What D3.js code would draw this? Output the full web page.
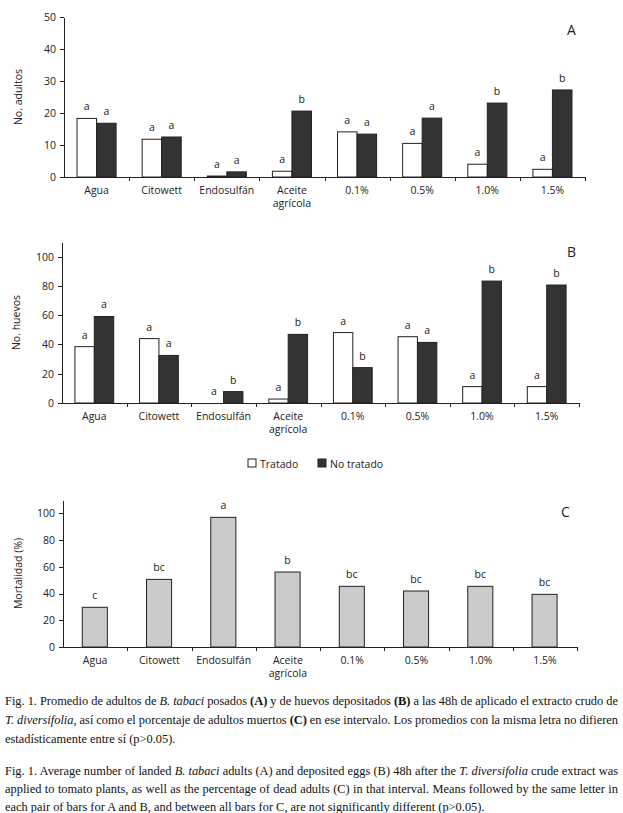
<!DOCTYPE html>
<html>
<head>
<meta charset="utf-8">
<script src="https://cdn.jsdelivr.net/npm/d3@7"></script>
<style>
  body { margin: 0; background: #fff; }
  svg { display: block; }
  .axis text { font-family: "Open Sans", sans-serif; font-size: 10.5px; fill: #222; }
  .axis path, .axis line { stroke: #222; stroke-width: 1; shape-rendering: crispEdges; }
  .lbl { font-family: "Open Sans", sans-serif; font-size: 10.5px; fill: #222; }
  .cap { font-family: "Liberation Serif", "Times New Roman", serif; font-size: 12.4px; fill: #111; }
</style>
</head>
<body>
<svg id="fig" width="623" height="813"></svg>
<script>
var categories = ["Agua", "Citowett", "Endosulfán", "Aceite agrícola", "0.1%", "0.5%", "1.0%", "1.5%"];
var series = ["Tratado", "No tratado"];

// A: adultos posados
var adultsTratado = [18.3, 11.8, 0.3, 1.8, 14.1, 10.5, 4.0, 2.4];
var adultsNoTratado = [16.8, 12.5, 1.6, 20.6, 13.4, 18.4, 23.1, 27.2];
var adultsLetters = [["a","a"],["a","a"],["a","a"],["a","b"],["a","a"],["a","a"],["a","b"],["a","b"]];

// B: huevos depositados
var eggsTratado = [38.5, 44.0, 0, 2.7, 48.1, 45.3, 11.2, 11.2];
var eggsNoTratado = [59.1, 32.5, 7.8, 46.9, 24.2, 41.4, 83.3, 80.6];
var eggsLetters = [["a","a"],["a","a"],["a","b"],["a","b"],["a","b"],["a","a"],["a","b"],["a","b"]];

// C: mortalidad
var mortality = [29.7, 50.6, 97.0, 56.1, 45.4, 41.9, 45.4, 39.4];
var mortalityLetters = ["c", "bc", "a", "b", "bc", "bc", "bc", "bc"];

var svg = d3.select('#fig');

var fillFor = { "Tratado": "#ffffff", "No tratado": "#333333" };

//: draws the common frame of one panel, returns the scales
var frame = function( o ) {
	var g = svg.append('g');

	var x = d3.scaleBand().domain( categories ).range( [o.x0, o.x1] ).padding( 0 );
	var y = d3.scaleLinear().domain( [0, o.max] ).range( [o.y0, o.yTop] );

	g.append('g')
		.attr('class', 'axis')
		.attr('transform', 'translate(' + o.x0 + ',0)')
		.call( d3.axisLeft( y ).tickValues( o.ticks ).tickSize( 4 ).tickSizeOuter( 0 ).tickPadding( 4 ) );

	// x axis: line + ticks on the category boundaries
	var xa = g.append('g').attr('class', 'axis');
	xa.append('line')
		.attr('x1', o.x0).attr('x2', o.x1)
		.attr('y1', o.y0 + 0.5).attr('y2', o.y0 + 0.5);
	xa.selectAll('.bt')
		.data( categories.map( function( c ) { return x( c ); } ).concat( [o.x1] ).slice( 1 ) )
		.enter().append('line')
			.attr('x1', function( d ) { return Math.round( d ) + 0.5; })
			.attr('x2', function( d ) { return Math.round( d ) + 0.5; })
			.attr('y1', o.y0).attr('y2', o.y0 + 4);

	var lab = g.selectAll('.cat')
		.data( categories )
		.enter().append('text')
			.attr('class', 'lbl')
			.attr('text-anchor', 'middle')
			.attr('x', function( d ) { return x( d ) + x.bandwidth() / 2; })
			.attr('y', o.y0 + 17);
	lab.each( function( d ) {
		var words = d === "Aceite agrícola" ? ["Aceite", "agrícola"] : [d];
		d3.select( this ).selectAll('tspan').data( words ).enter().append('tspan')
			.attr('x', x( d ) + x.bandwidth() / 2)
			.attr('dy', function( w, i ) { return i === 0 ? 0 : 12.5; })
			.text( function( w ) { return w; });
	});

	g.append('text')
		.attr('class', 'lbl')
		.attr('text-anchor', 'middle')
		.attr('transform', 'translate(' + o.titleX + ',' + (o.y0 + o.yTop) / 2 + ') rotate(-90)')
		.text( o.title );

	g.append('text')
		.attr('class', 'lbl')
		.style('font-size', '14px')
		.attr('x', o.tagX).attr('y', o.tagY)
		.text( o.tag );

	return { g: g, x: x, y: y };
};

var pairedPanel = function( o, tratado, noTratado, letters ) {
	var f = frame( o );
	var xs = d3.scaleBand().domain( series ).range( [f.x.bandwidth() * 0.2, f.x.bandwidth() * 0.8] ).padding( 0 );

	var rows = categories.map( function( c, i ) {
		return [
			{ cat: c, s: "Tratado", v: tratado[i], l: letters[i][0] },
			{ cat: c, s: "No tratado", v: noTratado[i], l: letters[i][1] }
		];
	}).reduce( function( a, b ) { return a.concat( b ); }, [] );

	f.g.selectAll('.bar')
		.data( rows )
		.enter().append('rect')
			.attr('class', 'bar')
			.attr('x', function( d ) { return f.x( d.cat ) + xs( d.s ); })
			.attr('width', xs.bandwidth())
			.attr('y', function( d ) { return f.y( d.v ); })
			.attr('height', function( d ) { return f.y( 0 ) - f.y( d.v ); })
			.attr('fill', function( d ) { return fillFor[ d.s ]; })
			.attr('stroke', '#222')
			.attr('stroke-width', 1);

	f.g.selectAll('.let')
		.data( rows )
		.enter().append('text')
			.attr('class', 'lbl')
			.attr('text-anchor', 'middle')
			.attr('x', function( d ) { return f.x( d.cat ) + xs( d.s ) + xs.bandwidth() / 2; })
			.attr('y', function( d ) { return f.y( d.v ) - 8; })
			.text( function( d ) { return d.l; });

	return f;
};

pairedPanel({
	x0: 64, x1: 585, y0: 177, yTop: 17, max: 50, ticks: [0, 10, 20, 30, 40, 50],
	title: "No. adultos", titleX: 22, tag: "A", tagX: 567, tagY: 35
}, adultsTratado, adultsNoTratado, adultsLetters );

pairedPanel({
	x0: 62, x1: 579, y0: 403, yTop: 242, max: 110, ticks: [0, 20, 40, 60, 80, 100],
	title: "No. huevos", titleX: 20, tag: "B", tagX: 567, tagY: 257
}, eggsTratado, eggsNoTratado, eggsLetters );

// legend
var legend = svg.append('g').attr('transform', 'translate(248,459)');
legend.selectAll('g')
	.data( series )
	.enter().append('g')
		.attr('transform', function( d, i ) { return 'translate(' + ( i * 70 ) + ',0)'; })
		.each( function( d ) {
			var s = d3.select( this );
			s.append('rect').attr('width', 8).attr('height', 8)
				.attr('fill', fillFor[ d ]).attr('stroke', '#222').attr('stroke-width', 1);
			s.append('text').attr('class', 'lbl').attr('x', 12).attr('y', 8.5).text( d );
		});

// C: mortalidad
var fc = frame({
	x0: 63, x1: 577, y0: 647, yTop: 500, max: 110, ticks: [0, 20, 40, 60, 80, 100],
	title: "Mortalidad (%)", titleX: 22, tag: "C", tagX: 561, tagY: 517
});

fc.g.selectAll('.bar')
	.data( mortality )
	.enter().append('rect')
		.attr('x', function( d, i ) { return fc.x( categories[i] ) + fc.x.bandwidth() * 0.3; })
		.attr('width', fc.x.bandwidth() * 0.39)
		.attr('y', function( d ) { return fc.y( d ); })
		.attr('height', function( d ) { return fc.y( 0 ) - fc.y( d ); })
		.attr('fill', '#cbcbcb')
		.attr('stroke', '#222')
		.attr('stroke-width', 1);

fc.g.selectAll('.let')
	.data( mortality )
	.enter().append('text')
		.attr('class', 'lbl')
		.attr('text-anchor', 'middle')
		.attr('x', function( d, i ) { return fc.x( categories[i] ) + fc.x.bandwidth() * 0.495; })
		.attr('y', function( d ) { return fc.y( d ) - 8; })
		.text( function( d, i ) { return mortalityLetters[i]; });

// caption: each line is a list of [text, style] runs
var captionLines = [
	{ y: 705, justify: true, runs: [["Fig. 1. Promedio de adultos de ", ""], ["B. tabaci", "i"], [" posados ", ""], ["(A)", "b"], [" y de huevos depositados ", ""], ["(B)", "b"], [" a las 48h de aplicado el extracto crudo de", ""]] },
	{ y: 724, justify: true, runs: [["T. diversifolia", "i"], [", así como el porcentaje de adultos muertos ", ""], ["(C)", "b"], [" en ese intervalo. Los promedios con la misma letra no difieren", ""]] },
	{ y: 743, justify: false, runs: [["estadísticamente entre sí (p>0.05).", ""]] },
	{ y: 775, justify: true, runs: [["Fig. 1. Average number of landed ", ""], ["B. tabaci", "i"], [" adults (A) and deposited eggs (B) 48h after the ", ""], ["T. diversifolia", "i"], [" crude extract was", ""]] },
	{ y: 793, justify: true, runs: [["applied to tomato plants, as well as the percentage of dead adults (C) in that interval. Means followed by the same letter in", ""]] },
	{ y: 811, justify: false, runs: [["each pair of bars for A and B, and between all bars for C, are not significantly different (p>0.05).", ""]] }
];

var capLeft = 5, capRight = 618;

svg.selectAll('.cap')
	.data( captionLines )
	.enter().append('text')
		.attr('class', 'cap')
		.attr('x', capLeft)
		.attr('y', function( d ) { return d.y; })
		.each( function( d ) {
			var t = d3.select( this );
			t.selectAll('tspan').data( d.runs ).enter().append('tspan')
				.style('font-style', function( r ) { return r[1] === 'i' ? 'italic' : null; })
				.style('font-weight', function( r ) { return r[1] === 'b' ? 'bold' : null; })
				.text( function( r ) { return r[0]; });
			if ( d.justify ) {
				var w = this.getComputedTextLength();
				var spaces = d.runs.map( function( r ) { return r[0]; }).join('').split(' ').length - 1;
				t.style('word-spacing', ( ( capRight - capLeft - w ) / spaces ) + 'px');
			}
		});
</script>
</body>
</html>
